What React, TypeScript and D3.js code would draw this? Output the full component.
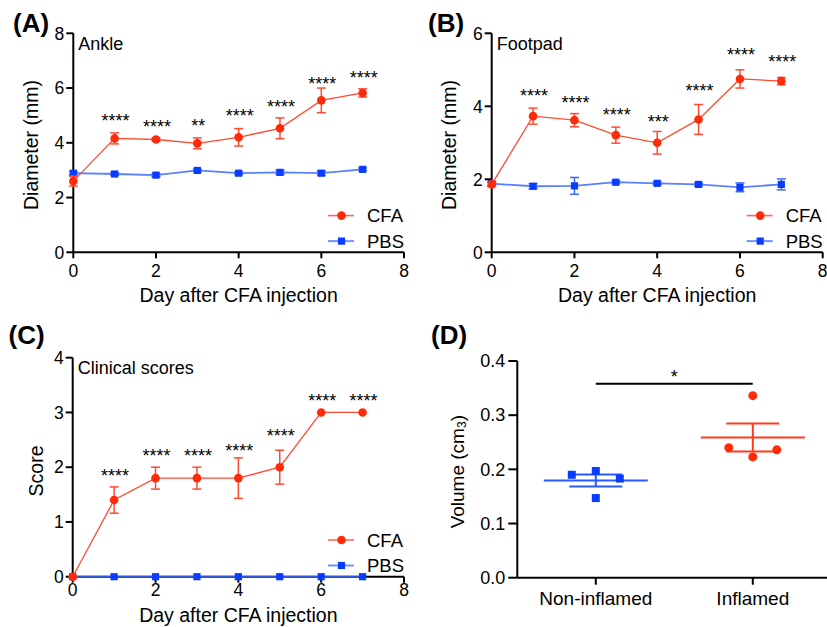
import React from 'react';
import * as d3 from 'd3';

// ---------------- data ----------------
const days = [0, 1, 2, 3, 4, 5, 6, 7];
const xTicks = [0, 2, 4, 6, 8];

const ankleCFA = [2.6, 4.16, 4.12, 3.98, 4.2, 4.53, 5.55, 5.82];
const ankleCFAErr = [0.18, 0.2, 0.06, 0.2, 0.32, 0.38, 0.45, 0.15];
const anklePBS = [2.89, 2.86, 2.82, 2.99, 2.89, 2.92, 2.89, 3.03];
const anklePBSErr = [0.06, 0.05, 0.06, 0.05, 0.05, 0.08, 0.08, 0.05];
const ankleStars = ['', '****', '****', '**', '****', '****', '****', '****'];
const ankleStarY = [0, 4.95, 4.72, 4.77, 5.11, 5.44, 6.28, 6.5];
const ankleYTicks = [0, 2, 4, 6, 8];

const footpadCFA = [1.86, 3.73, 3.62, 3.21, 3.0, 3.64, 4.75, 4.69];
const footpadCFAErr = [0.05, 0.22, 0.18, 0.22, 0.31, 0.41, 0.25, 0.1];
const footpadPBS = [1.88, 1.81, 1.82, 1.92, 1.89, 1.86, 1.78, 1.86];
const footpadPBSErr = [0.06, 0.07, 0.23, 0.04, 0.04, 0.04, 0.12, 0.15];
const footpadStars = ['', '****', '****', '****', '***', '****', '****', '****'];
const footpadStarY = [0, 4.4, 4.2, 3.87, 3.67, 4.52, 5.52, 5.31];
const footpadYTicks = [0, 2, 4, 6];

const scoreCFA = [0, 1.4, 1.8, 1.8, 1.8, 2.0, 3.0, 3.0];
const scoreCFAErr = [0, 0.24, 0.2, 0.2, 0.37, 0.31, 0, 0];
const scorePBS = [0, 0, 0, 0, 0, 0, 0, 0];
const scorePBSErr = [0, 0, 0, 0, 0, 0, 0, 0];
const scoreStars = ['', '****', '****', '****', '****', '****', '****', '****'];
const scoreStarY = [0, 1.92, 2.28, 2.28, 2.36, 2.64, 3.28, 3.29];
const scoreYTicks = [0, 1, 2, 3, 4];

const volumeGroups = ['Non-inflamed', 'Inflamed'];
const nonInflamed = [0.19, 0.197, 0.183, 0.147];
const inflamed = [0.24, 0.336, 0.236, 0.223];
const jitter = [-1, 0, 1, 0];
const volumeYTicks = [0, 0.1, 0.2, 0.3, 0.4];
const sigLevel = 0.358;

// ---------------- style ----------------
const RED = '#ff2a0a';
const RED_LINE = '#ff4b30';
const BLUE = '#0a3cff';
const BLUE_LINE = '#3d68ff';
const FONT = '"Liberation Sans", Arial, Helvetica, sans-serif';
const TICK_FS = 17.5;
const TITLE_FS = 19.5;
const LABEL_FS = 26;

type LinePanelProps = {
  label: string;
  labelX: number;
  labelY: number;
  x0: number;
  x1: number;
  yTop: number;
  yBottom: number;
  yMax: number;
  yTicks: number[];
  note: string;
  yTitle: string;
  yTitleOff: number;
  yTitleCY: number;
  xTickDy: number;
  xTitleDy: number;
  cfa: number[];
  cfaErr: number[];
  pbs: number[];
  pbsErr: number[];
  stars: string[];
  starY: number[];
};

function ErrBars({ xs, ys, errs, x, y, color }: any) {
  return (
    <g stroke={color} strokeWidth={1.5} fill="none">
      {xs.map((d: number, i: number) => {
        const e = errs[i];
        if (!e) return null;
        const cx = x(d);
        const yl = y(ys[i] - e);
        const yh = y(ys[i] + e);
        return (
          <g key={i}>
            <line x1={cx} x2={cx} y1={yl} y2={yh} />
            <line x1={cx - 4.5} x2={cx + 4.5} y1={yl} y2={yl} />
            <line x1={cx - 4.5} x2={cx + 4.5} y1={yh} y2={yh} />
          </g>
        );
      })}
    </g>
  );
}

function LinePanel(p: LinePanelProps) {
  const x = d3.scaleLinear().domain([0, 8]).range([p.x0, p.x1]);
  const y = d3.scaleLinear().domain([0, p.yMax]).range([p.yBottom, p.yTop]);
  const line = d3
    .line<number>()
    .x((_, i) => x(days[i]))
    .y((v) => y(v));
  const lx = p.x1 - 76;
  const ly1 = p.yBottom - 36.7;
  const ly2 = p.yBottom - 11.2;
  return (
    <g fontFamily={FONT}>
      <text x={p.labelX} y={p.labelY} fontSize={LABEL_FS} fontWeight="bold">
        {p.label}
      </text>
      {/* axes */}
      <g stroke="#000" strokeWidth={2}>
        <line x1={p.x0} x2={p.x0} y1={p.yTop} y2={p.yBottom} />
        <line x1={p.x0} x2={p.x1} y1={p.yBottom} y2={p.yBottom} />
        {p.yTicks.map((t) => (
          <line key={'yt' + t} x1={p.x0 - 7} x2={p.x0} y1={y(t)} y2={y(t)} />
        ))}
        {xTicks.map((t) => (
          <line key={'xt' + t} x1={x(t)} x2={x(t)} y1={p.yBottom} y2={p.yBottom + 6} />
        ))}
      </g>
      {p.yTicks.map((t) => (
        <text key={'yl' + t} x={p.x0 - 9} y={y(t) + 6.2} fontSize={TICK_FS} textAnchor="end">
          {t}
        </text>
      ))}
      {xTicks.map((t) => (
        <text key={'xl' + t} x={x(t)} y={p.yBottom + p.xTickDy} fontSize={TICK_FS} textAnchor="middle">
          {t}
        </text>
      ))}
      <text
        x={(p.x0 + p.x1) / 2}
        y={p.yBottom + p.xTitleDy}
        fontSize={TITLE_FS}
        textAnchor="middle"
      >
        Day after CFA injection
      </text>
      <text
        transform={`translate(${p.x0 - p.yTitleOff},${p.yTitleCY}) rotate(-90)`}
        fontSize={TITLE_FS}
        textAnchor="middle"
      >
        {p.yTitle}
      </text>
      <text x={p.x0 + 5} y={p.yTop + 16.5} fontSize={18}>
        {p.note}
      </text>
      {/* PBS series */}
      <ErrBars xs={days} ys={p.pbs} errs={p.pbsErr} x={x} y={y} color={BLUE_LINE} />
      <path d={line(p.pbs) || ''} fill="none" stroke={BLUE_LINE} strokeOpacity={0.85} strokeWidth={1.8} />
      {p.pbs.map((v, i) => (
        <rect key={'pb' + i} x={x(days[i]) - 3.6} y={y(v) - 3.6} width={7.2} height={7.2} fill={BLUE} />
      ))}
      {/* CFA series */}
      <ErrBars xs={days} ys={p.cfa} errs={p.cfaErr} x={x} y={y} color={RED_LINE} />
      <path d={line(p.cfa) || ''} fill="none" stroke={RED_LINE} strokeWidth={1.3} />
      {p.cfa.map((v, i) => (
        <circle key={'cf' + i} cx={x(days[i])} cy={y(v)} r={4.3} fill={RED} />
      ))}
      {/* stars */}
      {p.stars.map((s, i) =>
        s ? (
          <text key={'st' + i} x={x(days[i]) + 1} y={y(p.starY[i]) + 10} fontSize={18} textAnchor="middle">
            {s}
          </text>
        ) : null
      )}
      {/* legend */}
      <line x1={lx} x2={lx + 26} y1={ly1} y2={ly1} stroke="#ff6a55" strokeWidth={1.6} />
      <circle cx={lx + 13.5} cy={ly1} r={4.3} fill={RED} />
      <text x={lx + 39} y={ly1 + 6.5} fontSize={18.5}>
        CFA
      </text>
      <line x1={lx} x2={lx + 26} y1={ly2} y2={ly2} stroke="#7391ff" strokeWidth={2} />
      <rect x={lx + 13.5 - 3.6} y={ly2 - 3.6} width={7.2} height={7.2} fill={BLUE} />
      <text x={lx + 39} y={ly2 + 6.5} fontSize={18.5}>
        PBS
      </text>
    </g>
  );
}

function VolumePanel() {
  const x0 = 517.3;
  const yTop = 361;
  const yBottom = 577.7;
  const x = d3.scalePoint<string>().domain(volumeGroups).range([x0, 831.3]).padding(0.5);
  const y = d3.scaleLinear().domain([0, 0.4]).range([yBottom, yTop]);
  const fmt = d3.format('.1f');
  const groups = [
    { name: volumeGroups[0], vals: nonInflamed, color: BLUE, line: '#2a5aff', shape: 'square' },
    { name: volumeGroups[1], vals: inflamed, color: RED, line: '#ff3a1e', shape: 'circle' },
  ];
  const jx = 24;
  return (
    <g fontFamily={FONT}>
      <text x={431} y={344} fontSize={LABEL_FS} fontWeight="bold">
        (D)
      </text>
      <g stroke="#000" strokeWidth={2}>
        <line x1={x0} x2={x0} y1={yTop} y2={yBottom} />
        <line x1={x0} x2={827} y1={yBottom} y2={yBottom} />
        {volumeYTicks.map((t) => (
          <line key={'t' + t} x1={x0 - 9} x2={x0} y1={y(t)} y2={y(t)} />
        ))}
        {volumeGroups.map((g) => (
          <line key={g} x1={x(g)!} x2={x(g)!} y1={yBottom} y2={yBottom + 7} />
        ))}
      </g>
      {volumeYTicks.map((t) => (
        <text key={'l' + t} x={x0 - 12} y={y(t) + 6.2} fontSize={18} textAnchor="end">
          {fmt(t)}
        </text>
      ))}
      {volumeGroups.map((g) => (
        <text key={'xl' + g} x={x(g)!} y={yBottom + 27} fontSize={19} textAnchor="middle">
          {g}
        </text>
      ))}
      <text transform={`translate(464,471.7) rotate(-90)`} fontSize={19} textAnchor="middle">
        Volume (cm
        <tspan fontSize={12} dy={2}>
          3
        </tspan>
        <tspan dy={-2}>)</tspan>
      </text>
      {groups.map((g) => {
        const cx = x(g.name)!;
        const m = d3.mean(g.vals)!;
        const sem = d3.deviation(g.vals)! / Math.sqrt(g.vals.length);
        return (
          <g key={g.name}>
            <g stroke={g.line} strokeWidth={2}>
              <line x1={cx - 52} x2={cx + 52} y1={y(m)} y2={y(m)} />
              <line x1={cx} x2={cx} y1={y(m - sem)} y2={y(m + sem)} />
              <line x1={cx - 26.5} x2={cx + 26.5} y1={y(m - sem)} y2={y(m - sem)} />
              <line x1={cx - 26.5} x2={cx + 26.5} y1={y(m + sem)} y2={y(m + sem)} />
            </g>
            {g.vals.map((v, i) =>
              g.shape === 'square' ? (
                <rect key={i} x={cx + jitter[i] * jx - 4} y={y(v) - 4} width={8} height={8} fill={g.color} />
              ) : (
                <circle key={i} cx={cx + jitter[i] * jx} cy={y(v)} r={4.5} fill={g.color} />
              )
            )}
          </g>
        );
      })}
      <line
        x1={x(volumeGroups[0])!}
        x2={x(volumeGroups[1])!}
        y1={y(sigLevel)}
        y2={y(sigLevel)}
        stroke="#000"
        strokeWidth={2}
      />
      <text
        x={(x(volumeGroups[0])! + x(volumeGroups[1])!) / 2}
        y={y(sigLevel) - 0.5}
        fontSize={18}
        textAnchor="middle"
      >
        *
      </text>
    </g>
  );
}

export default function App() {
  return (
    <svg
      width={827}
      height={627}
      viewBox="0 0 827 627"
      style={{ position: 'absolute', left: 0, top: 0, background: '#fff' }}
    >
      <rect x={0} y={0} width={827} height={627} fill="#fff" />
      <LinePanel
        label="(A)"
        labelX={13}
        labelY={32}
        x0={73.3}
        x1={404}
        yTop={33.3}
        yBottom={252.3}
        yMax={8}
        yTicks={ankleYTicks}
        note="Ankle"
        yTitle="Diameter (mm)"
        yTitleOff={35}
        yTitleCY={145}
        xTickDy={24.5}
        xTitleDy={50}
        cfa={ankleCFA}
        cfaErr={ankleCFAErr}
        pbs={anklePBS}
        pbsErr={anklePBSErr}
        stars={ankleStars}
        starY={ankleStarY}
      />
      <LinePanel
        label="(B)"
        labelX={428}
        labelY={32}
        x0={491.7}
        x1={822.7}
        yTop={33.3}
        yBottom={252.3}
        yMax={6}
        yTicks={footpadYTicks}
        note="Footpad"
        yTitle="Diameter (mm)"
        yTitleOff={35.5}
        yTitleCY={145}
        xTickDy={24.5}
        xTitleDy={50}
        cfa={footpadCFA}
        cfaErr={footpadCFAErr}
        pbs={footpadPBS}
        pbsErr={footpadPBSErr}
        stars={footpadStars}
        starY={footpadStarY}
      />
      <LinePanel
        label="(C)"
        labelX={8.5}
        labelY={344}
        x0={72.7}
        x1={404}
        yTop={357.7}
        yBottom={576.7}
        yMax={4}
        yTicks={scoreYTicks}
        note="Clinical scores"
        yTitle="Score"
        yTitleOff={30}
        yTitleCY={471}
        xTickDy={19.5}
        xTitleDy={45}
        cfa={scoreCFA}
        cfaErr={scoreCFAErr}
        pbs={scorePBS}
        pbsErr={scorePBSErr}
        stars={scoreStars}
        starY={scoreStarY}
      />
      <VolumePanel />
    </svg>
  );
}
